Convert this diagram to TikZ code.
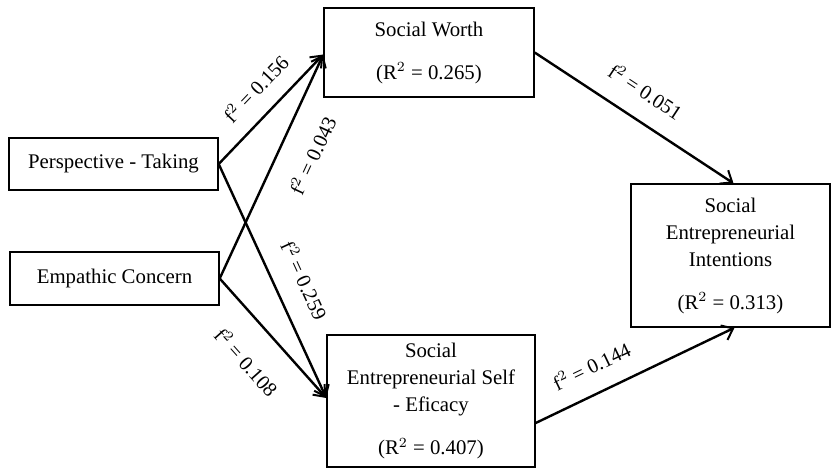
\documentclass[tikz,border=0pt]{standalone}
\usepackage{fontspec}
\setmainfont{Liberation Serif}
\usetikzlibrary{arrows.meta,calc}
\begin{document}
\begin{tikzpicture}[x=0.5pt,y=-0.5pt,
  box/.style={draw,line width=0.7pt,align=center,inner sep=0pt,
    font=\fontsize{10.4}{13.5}\selectfont},
  conn/.style={line width=1.2pt,-{Straight Barb[length=5pt,width=8pt,line width=1pt]}},
  lab/.style={font=\fontsize{10.2}{12}\selectfont,inner sep=0pt,sloped}]
\useasboundingbox (0,0) rectangle (831,468);
\node[box,minimum width=104.5pt,minimum height=26pt] (pt) at (113.5,164) {Perspective - Taking};
\node[box,minimum width=104.5pt,minimum height=26.5pt] (ec) at (114.5,278.5) {Empathic Concern};
\node[box,minimum width=105pt,minimum height=44.5pt] (sw) at (429,52.5) {Social Worth\\[8pt](R$^{2}$ = 0.265)};
\node[box,minimum width=104pt,minimum height=66pt] (se) at (431,401) {Social\\Entrepreneurial Self\\- Eficacy\\[8pt](R$^{2}$ = 0.407)};
\node[box,minimum width=99.5pt,minimum height=71.5pt] (sei) at (730.5,255.5) {Social\\Entrepreneurial\\Intentions\\[8pt](R$^{2}$ = 0.313)};
\coordinate (swin) at ($(sw.west)+(0,2)$);
\coordinate (sein) at ($(se.west)+(0,-3)$);
\coordinate (seout) at ($(se.east)+(0,22)$);
\coordinate (seitop) at ($(sei.north)+(3,0)$);
\coordinate (seibot) at ($(sei.south)+(4,0)$);
\draw[conn] (pt.east) -- node[lab,pos=0.53,above=8pt] {f$^{2}$ = 0.156} (swin);
\draw[conn] (ec.east) -- node[lab,pos=0.61,below=11.5pt] {f$^{2}$ = 0.043} (swin);
\draw[conn] (pt.east) -- node[lab,pos=0.55,above=10pt] {f$^{2}$ = 0.259} (sein);
\draw[conn] (ec.east) -- node[lab,pos=0.50,below=13pt] {f$^{2}$ = 0.108} (sein);
\draw[conn] (sw.east) -- node[lab,pos=0.48,above=9.5pt] {f$^{2}$ = 0.051} (seitop);
\draw[conn] (seout) -- node[lab,pos=0.34,above=9pt] {f$^{2}$ = 0.144} (seibot);
\end{tikzpicture}
\end{document}
